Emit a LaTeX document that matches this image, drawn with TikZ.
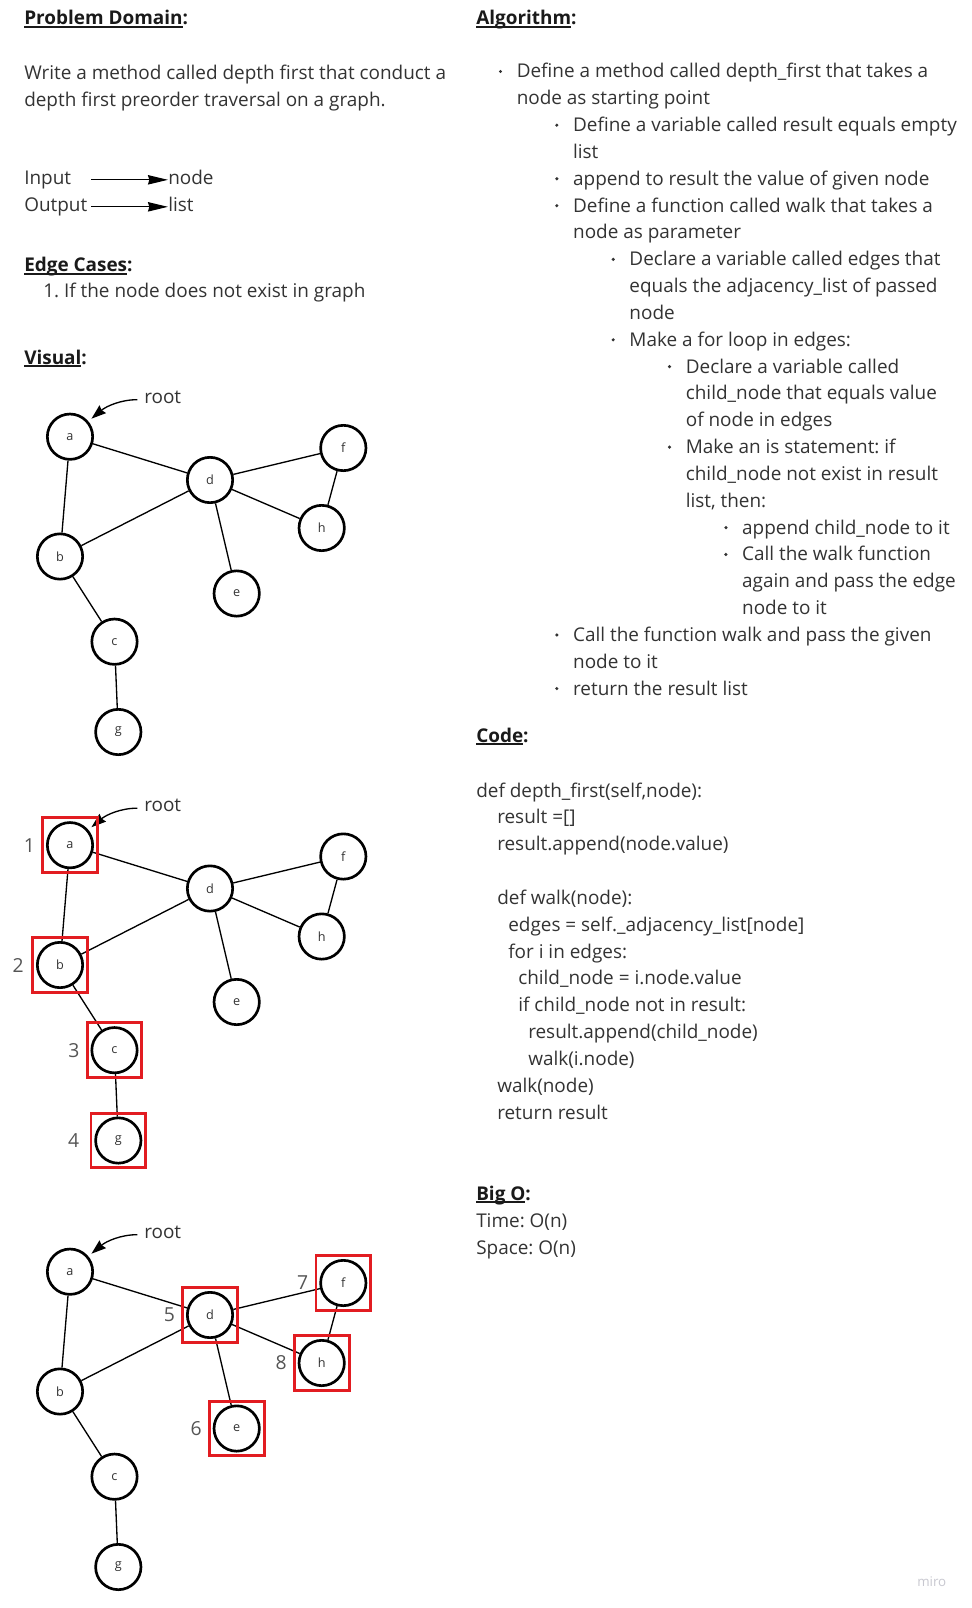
\documentclass[tikz,border=0pt]{standalone}
\usepackage{fontspec}
\setmainfont{Open Sans}
\usetikzlibrary{arrows.meta,positioning}

\definecolor{ink}{RGB}{51,51,51}
\definecolor{hdink}{RGB}{26,26,26}
\definecolor{numgray}{RGB}{85,85,85}
\definecolor{boxred}{RGB}{226,28,33}
\definecolor{wmark}{RGB}{200,200,208}

% underlined bold heading followed by a colon
\newcommand\heading[1]{\sbox0{\bfseries #1}\rlap{\rule[-2.05pt]{\wd0}{1.1pt}}\usebox0\textbf{:}}

\tikzset{
  txt/.style={anchor=base west, inner sep=0pt, text=ink, font=\fontsize{14.2pt}{19pt}\selectfont\frenchspacing},
  hd/.style={txt, text=hdink},
  vtx/.style={circle, draw, line width=2pt, minimum size=34pt, inner sep=0pt,
              text=ink, font=\fontsize{9.5pt}{11pt}\selectfont},
  link/.style={line width=1pt},
  redbox/.style={draw=boxred, line width=2.2pt, minimum size=41pt, inner sep=0pt},
  num/.style={inner sep=0pt, text=numgray, font=\fontsize{14.5pt}{19pt}\selectfont},
  io/.style={line width=1pt, -{Stealth[length=15pt,width=7pt,inset=1pt]}},
  rootarr/.style={line width=1pt, -{Stealth[length=11pt,width=7.5pt,inset=1pt]}},
}

\begin{document}
\begin{tikzpicture}[x=0.75pt, y=-0.75pt]
    % Page
    \fill[white] (0,0) rectangle (971,1608);
    \useasboundingbox (0,0) rectangle (971,1608);

    % Problem domain
    \node[hd] (pd) at (24,25) {\heading{Problem Domain}};
    \node[txt] (pd1) at (24,80) {Write a method called depth first that conduct a};
    \node[txt] (pd2) at (24,107) {depth first preorder traversal on a graph.};

    % Input and output
    \node[txt] (in) at (24,185) {Input};
    \node[txt] (out) at (24,212) {Output};
    \node[txt] (nd) at (168,185) {node};
    \node[txt] (ls) at (168,212) {list};
    \draw[io, shorten <=3pt] ([yshift=1.2pt]out.east |- nd.mid) -- ([yshift=1.2pt]nd.mid west);
    \draw[io, shorten <=3pt] ([yshift=1.2pt]out.mid east) -- ([yshift=1.2pt]ls.mid west);

    % Edge cases
    \node[hd] (ec) at (24,272) {\heading{Edge Cases}};
    \node[txt] (ec1) at (43,298) {1. If the node does not exist in graph};
    \node[hd] (vis) at (24,364) {\heading{Visual}};

    % Algorithm
    \node[hd] (alg) at (476,25) {\heading{Algorithm}};
    \foreach \lv/\bu/\ltext [count=\i] in {
        1/1/{Define a method called depth\_first that takes a},
        1/0/{node as starting point},
        2/1/{Define a variable called result equals empty},
        2/0/{list},
        2/1/{append to result the value of given node},
        2/1/{Define a function called walk that takes a},
        2/0/{node as parameter},
        3/1/{Declare a variable called edges that},
        3/0/{equals the adjacency\_list of passed},
        3/0/{node},
        3/1/{Make a for loop in edges:},
        4/1/{Declare a variable called},
        4/0/{child\_node that equals value},
        4/0/{of node in edges},
        4/1/{Make an is statement: if},
        4/0/{child\_node not exist in result},
        4/0/{list, then:},
        5/1/{append child\_node to it},
        5/1/{Call the walk function},
        5/0/{again and pass the edge},
        5/0/{node to it},
        2/1/{Call the function walk and pass the given},
        2/0/{node to it},
        2/1/{return the result list}} {
        \node[txt] (al\i) at ({516.5+(\lv-1)*56.35},{78+(\i-1)*26.83}) {\ltext};
        \ifnum\bu=1
            \fill[ink] ({517.3+(\lv-1)*56.35-16.8},{78+(\i-1)*26.83-6.5}) circle (1.3pt);
        \fi
    }

    % Code
    \node[hd] (code) at (476,742) {\heading{Code}};
    \foreach \n/\dx/\ltext in {
        1/0/{def depth\_first(self,node):},
        2/21/{result =[]},
        3/21/{result.append(node.value)},
        5/21/{def walk(node):},
        6/32/{edges = self.\_adjacency\_list[node]},
        7/32/{for i in edges:},
        8/42/{child\_node = i.node.value},
        9/42/{if child\_node not in result:},
        10/52/{result.append(child\_node)},
        11/52/{walk(i.node)},
        12/21/{walk(node)},
        13/21/{return result}} {
        \node[txt] (cd\n) at ({476+\dx},{797+(\n-1)*26.85}) {\ltext};
    }

    % Big O
    \node[hd] (bigo) at (476,1200) {\heading{Big O}};
    \node[txt] (tm) at (476,1227) {Time: O(n)};
    \node[txt] (sp) at (476,1254) {Space: O(n)};

    % Graphs
    \foreach \gi/\dy in {1/0, 2/408.5, 3/835} {
        \begin{scope}[shift={(0,\dy)}]
            \node[vtx] (a\gi) at (70,436.7) {a};
            \node[vtx] (b\gi) at (60,556.5) {b};
            \node[vtx] (c\gi) at (114.5,641.7) {c};
            \node[vtx] (g\gi) at (118.3,732) {g};
            \node[vtx] (d\gi) at (210,480) {d};
            \node[vtx] (e\gi) at (236.7,593.5) {e};
            \node[vtx] (f\gi) at (343.3,448) {f};
            \node[vtx] (h\gi) at (321.7,528) {h};
            \draw[link] (a\gi) -- (d\gi);
            \draw[link] (a\gi) -- (b\gi);
            \draw[link] (b\gi) -- (d\gi);
            \draw[link] (d\gi) -- (f\gi);
            \draw[link] (d\gi) -- (h\gi);
            \draw[link] (d\gi) -- (e\gi);
            \draw[link] (f\gi) -- (h\gi);
            \draw[link] (b\gi) -- (c\gi);
            \draw[link] (c\gi) -- (g\gi);
            % root pointer
            \node[txt] (rt\gi) at (144,403) {root};
            \draw[rootarr, shorten <=5pt, shorten >=3pt]
                ([yshift=2.5pt]rt\gi.base west) to[out=180, in=40] (a\gi.40);
        \end{scope}
    }

    % Visiting order
    \foreach \nd/\n/\gap in {a2/1/4.5pt, b2/2/5.5pt, c2/3/4.5pt, g2/4/7.5pt,
                             d3/5/4.5pt, e3/6/4.5pt, f3/7/4.5pt, h3/8/4.5pt} {
        \node[redbox] (box\n) at (\nd) {};
        \node[num, left=\gap of box\n] (n\n) {\n};
    }

    % Watermark
    \node[txt, text=wmark, font=\fontsize{10pt}{12pt}\selectfont] (miro) at (917,1586) {miro};
\end{tikzpicture}
\end{document}
